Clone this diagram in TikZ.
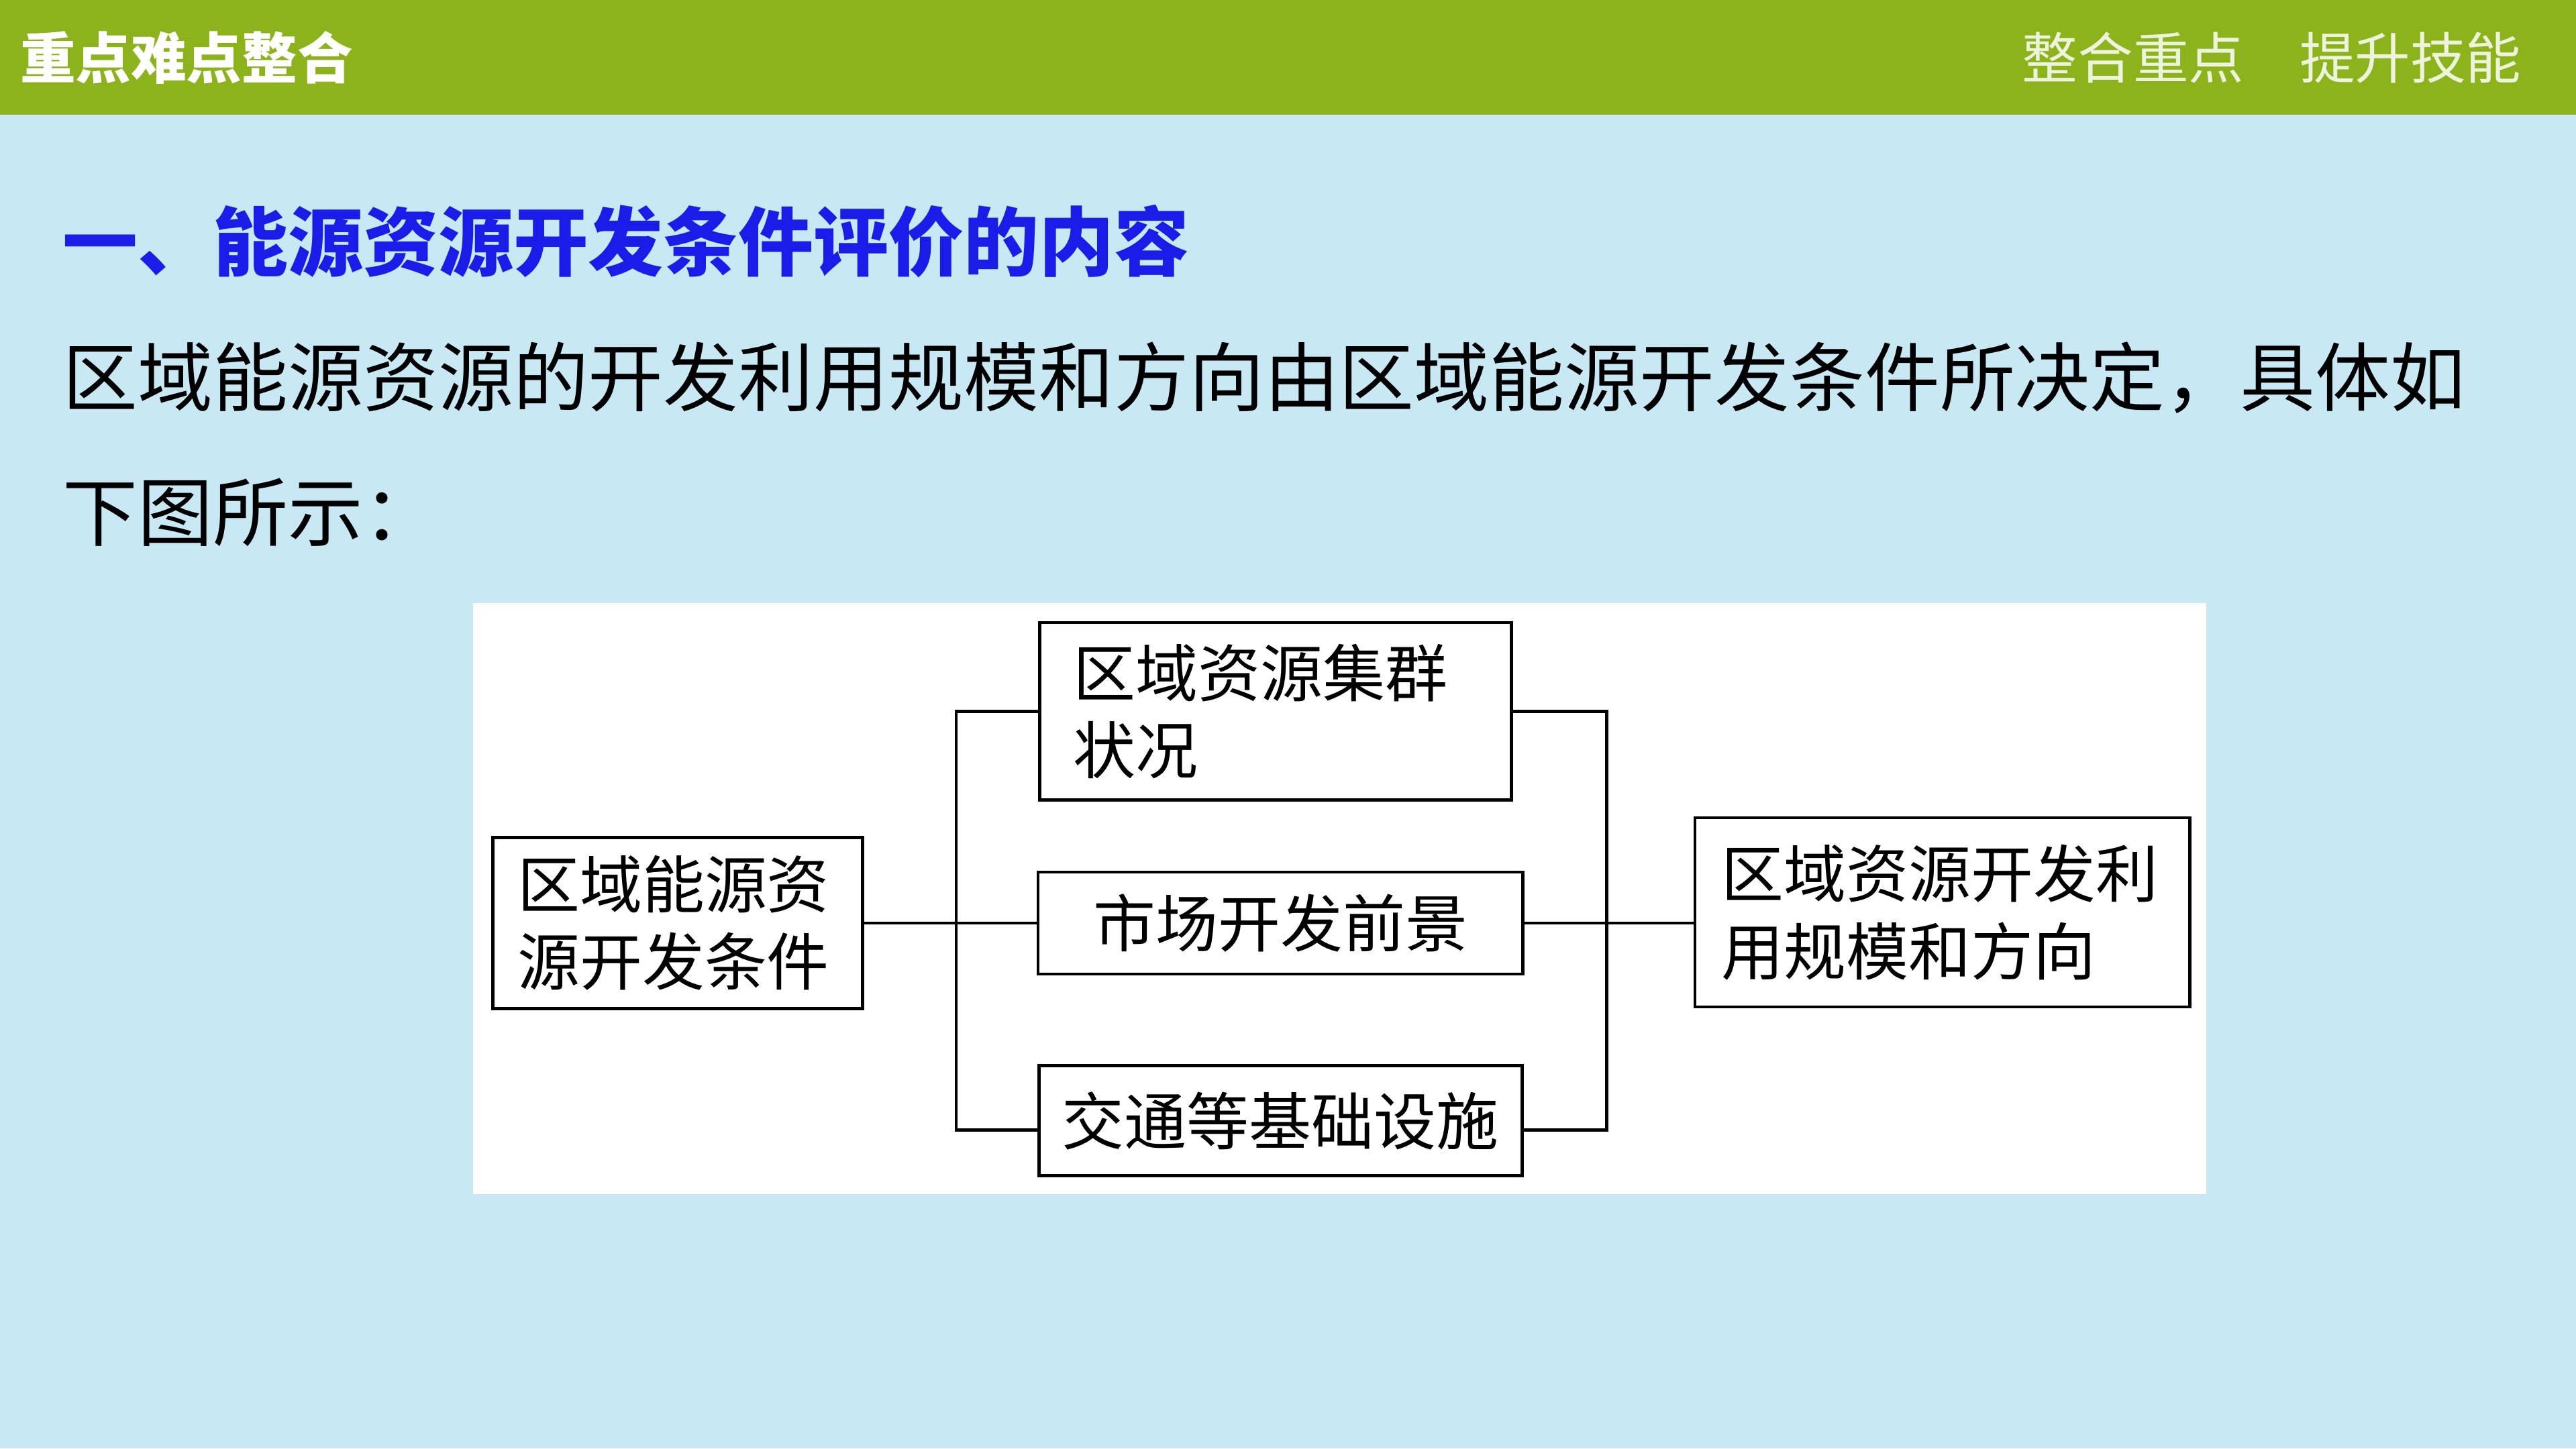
\documentclass[tikz,border=0pt]{standalone}
\usepackage{fontspec}
\setmainfont{Noto Sans CJK SC}
\usetikzlibrary{positioning}
\definecolor{headgreen}{HTML}{8CB21C}
\definecolor{slideblue}{HTML}{C8E8F4}
\definecolor{titleblue}{HTML}{1C1CE8}
\definecolor{headtext}{HTML}{EEF4DC}
\tikzstyle{condbox} = [draw, rectangle, line width=1.3pt, fill=white, font=\fontsize{27pt}{33.5pt}\selectfont, inner sep=0pt, align=left]
\tikzstyle{link} = [line width=1.3pt, black]
\tikzstyle{slidetext} = [anchor=west, inner sep=0pt, font=\fontsize{32.5pt}{39pt}\selectfont]
\tikzstyle{headlabel} = [inner sep=0pt, font=\fontsize{24pt}{28pt}\selectfont]

\begin{document}
\begin{tikzpicture}[x=0.025cm, y=-0.025cm]
    \useasboundingbox (0,0) rectangle (1568,882);
    \fill[slideblue] (0,0) rectangle (1568,882);
    \fill[headgreen] (0,0) rectangle (1568,70);
    \fill[white] (288,367) rectangle (1343,727);

    \node (head) [headlabel, anchor=west, text=white, font=\fontsize{24pt}{28pt}\selectfont\bfseries] at (12,35) {重点难点整合};
    \node (motto) [headlabel, anchor=east, text=headtext] at (1535,35) {整合重点\hspace{24pt}提升技能};
    \node (title) [slidetext, text=titleblue, font=\fontsize{32.5pt}{39pt}\selectfont\bfseries] at (38,147) {一、能源资源开发条件评价的内容};
    \node (line1) [slidetext] at (38,230) {区域能源资源的开发利用规模和方向由区域能源开发条件所决定，具体如};
    \node (line2) [slidetext] at (38,312) {下图所示：};

    % diagram
    \node (cond) [condbox, minimum width=5.625cm, minimum height=2.6cm, text width=4.875cm] at (412.5,562) {区域能源资\\源开发条件};
    \node (market) [condbox, minimum width=7.375cm, minimum height=1.55cm, align=center, right=2.625cm of cond] {市场开发前景};
    \node (cluster) [condbox, minimum width=7.175cm, minimum height=2.7cm, text width=6.15cm, above=1.05cm of market, xshift=-0.075cm] {区域资源集群\\状况};
    \node (traffic) [condbox, minimum width=7.35cm, minimum height=1.675cm, align=center, below=1.35cm of market] {交通等基础设施};
    \node (scale) [condbox, minimum width=7.525cm, minimum height=2.875cm, text width=6.725cm, right=2.575cm of market, yshift=0.1625cm] {区域资源开发利\\用规模和方向};

    \coordinate (lbus) at (582,562);
    \coordinate (rbus) at (978,562);

    \draw [link] (cond) -- (market);
    \draw [link] (cluster.west) -| (lbus) |- ([yshift=-0.14cm]traffic.west);
    \draw [link] (cluster.east) -| (rbus) |- ([yshift=-0.14cm]traffic.east);
    \draw [link] (market.east) -- (market.east -| scale.west);
\end{tikzpicture}
\end{document}
